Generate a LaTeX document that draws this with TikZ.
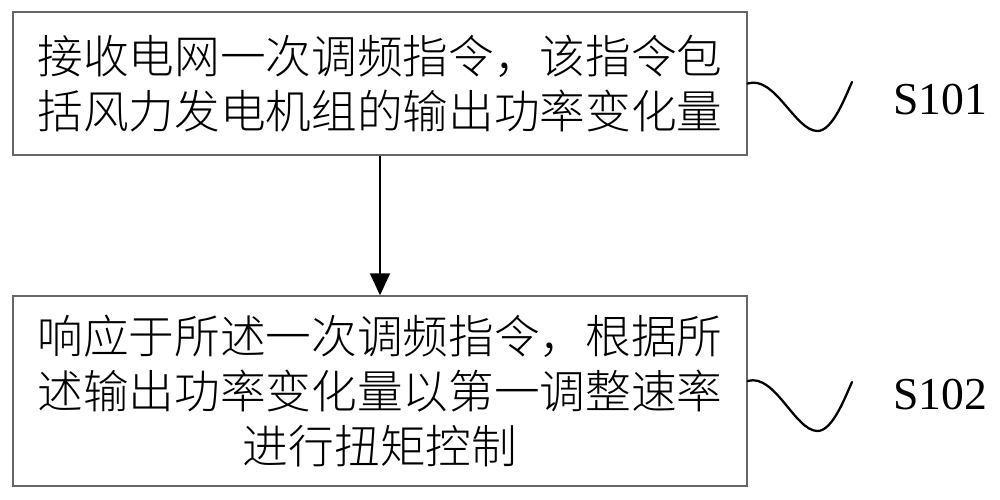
\documentclass[tikz,border=0pt]{standalone}
\usepackage{fontspec}
\setmainfont{Liberation Serif}
\newfontfamily\cjk{Noto Sans CJK SC}[UprightFont={* Light}]
\usepackage{tikz}
\usetikzlibrary{positioning,arrows.meta}

\begin{document}
\begin{tikzpicture}[
    stepbox/.style={draw=black!60, line width=0.8pt, minimum width=14.68cm,
                    align=center, inner sep=0pt, font=\cjk\fontsize{26}{31.3}\selectfont},
    lbl/.style={font=\fontsize{26}{30}\selectfont, anchor=center},
    wave/.style={line width=1.3pt, line cap=round},
    arr/.style={-{Triangle[length=4.4mm, width=4mm]}, line width=1.1pt}
  ]
  \useasboundingbox (0,0) rectangle (20,-10);

  % ---------------- steps ----------------
  \node[stepbox, minimum height=2.86cm] (s1) at (7.6,-1.67)
    {接收电网一次调频指令，该指令包\\括风力发电机组的输出功率变化量};
  \node[stepbox, minimum height=3.8cm] (s2) at (7.6,-7.82)
    {响应于所述一次调频指令，根据所\\述输出功率变化量以第一调整速率\\进行扭矩控制};
  \draw[arr] (s1.south) -- (s2.north);

  % ---------------- labels ----------------
  \node[lbl] (l1) at (18.8,-2.0) {S101};
  \node[lbl] (l2) at (18.8,-7.9) {S102};
  \draw[wave] (s1.east) .. controls (15.5,-1.5) and (15.9,-2.62) .. (16.35,-2.62)
    .. controls (16.65,-2.62) and (16.9,-1.95) .. (17.04,-1.64);
  \draw[wave] ([yshift=2mm]s2.east) .. controls (15.5,-7.46) and (15.9,-8.62) .. (16.35,-8.62)
    .. controls (16.65,-8.62) and (16.9,-7.95) .. (17.04,-7.64);
\end{tikzpicture}
\end{document}
